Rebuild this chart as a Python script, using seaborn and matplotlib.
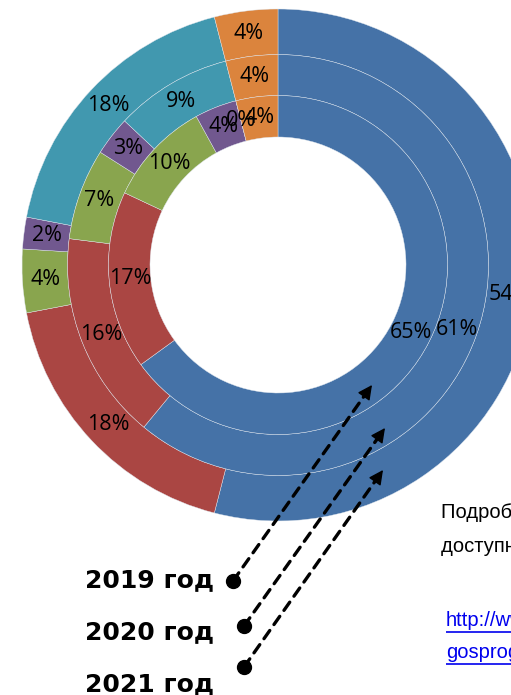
import matplotlib
matplotlib.use("Agg")
import matplotlib.pyplot as plt
import seaborn as sns

# shares by category, clockwise from 12 o'clock
categories = ["cat1", "cat2", "cat3", "cat4", "cat5", "cat6"]
share_2019 = [65, 17, 10, 4, 0, 4]
share_2020 = [61, 16, 7, 3, 9, 4]
share_2021 = [54, 18, 4, 2, 18, 4]
year_labels = ["2019 год", "2020 год", "2021 год"]

palette = ["#4572A7", "#AA4643", "#89A54E", "#71588F", "#4198AF", "#DB843D"]

sns.set_theme(style="white")
plt.rcParams["font.family"] = ["Open Sans", "DejaVu Sans"]

W, H = 511, 695
fig = plt.figure(figsize=(W / 100, H / 100), dpi=100)

# donut: centre (278, 265) px, outer radius 256 px
cx, cy, R = 278, 265, 256
ax = fig.add_axes([(cx - R) / W, (H - cy - R) / H, 2 * R / W, 2 * R / H])
ax.set_xlim(-1, 1)
ax.set_ylim(-1, 1)
ax.set_aspect("equal")
ax.axis("off")

rings = [(share_2021, 1.0, 0.178), (share_2020, 0.822, 0.16), (share_2019, 0.662, 0.162)]
for vals, r, w in rings:
    wedges, _, autotexts = ax.pie(
        vals, radius=r, colors=palette, startangle=90, counterclock=False,
        wedgeprops=dict(width=w, edgecolor="#dfe6ee", linewidth=0.3),
        autopct=lambda p: f"{p:.0f}%", pctdistance=(r - w / 2) / r,
        textprops=dict(fontsize=15.5, color="black"),
    )
ax.set_xlim(-1, 1)
ax.set_ylim(-1, 1)

# overlay in pixel coordinates for annotations
ov = fig.add_axes([0, 0, 1, 1], facecolor="none")
ov.set_xlim(0, W)
ov.set_ylim(H, 0)
ov.axis("off")

dots = [(233, 581), (244, 626), (244, 667)]
tips = [(372, 385), (385, 428), (383, 470)]
text_y = [580, 632, 684]
for lab, ty, (dx, dy), (tx, tyy) in zip(year_labels, text_y, dots, tips):
    ov.text(85, ty, lab, fontsize=18, fontweight="heavy", va="center", ha="left",
            family=["DejaVu Sans"], color="black")
    ov.plot(dx, dy, "o", color="black", markersize=10)
    # dashed shaft
    fx = tx - (tx - dx) * 0.06
    fy = tyy - (tyy - dy) * 0.06
    ov.annotate("", xy=(fx, fy), xytext=(dx, dy),
                arrowprops=dict(arrowstyle="-", color="black", lw=2.4,
                                linestyle=(0, (3, 2.2)), shrinkA=0, shrinkB=0))
    ov.annotate("", xy=(tx, tyy), xytext=(fx, fy),
                arrowprops=dict(arrowstyle="-|>", color="black", lw=1,
                                mutation_scale=22, shrinkA=0, shrinkB=0))

side_font = ["Liberation Sans", "DejaVu Sans"]
ov.text(441, 512, "Подробная информация", fontsize=14.5, va="center", ha="left",
        family=side_font, color="black")
ov.text(441, 546, "доступна по ссылке:", fontsize=14.5, va="center", ha="left",
        family=side_font, color="black")
ov.text(446, 620, "http://www.", fontsize=14.5, va="center", ha="left",
        family=side_font, color="#0000EE")
ov.text(446, 652, "gosprogramma", fontsize=14.5, va="center", ha="left",
        family=side_font, color="#0000EE")
ov.hlines([632, 664], 446, W, color="#0000EE", lw=1.2)

fig.savefig("out.png", dpi=100)
